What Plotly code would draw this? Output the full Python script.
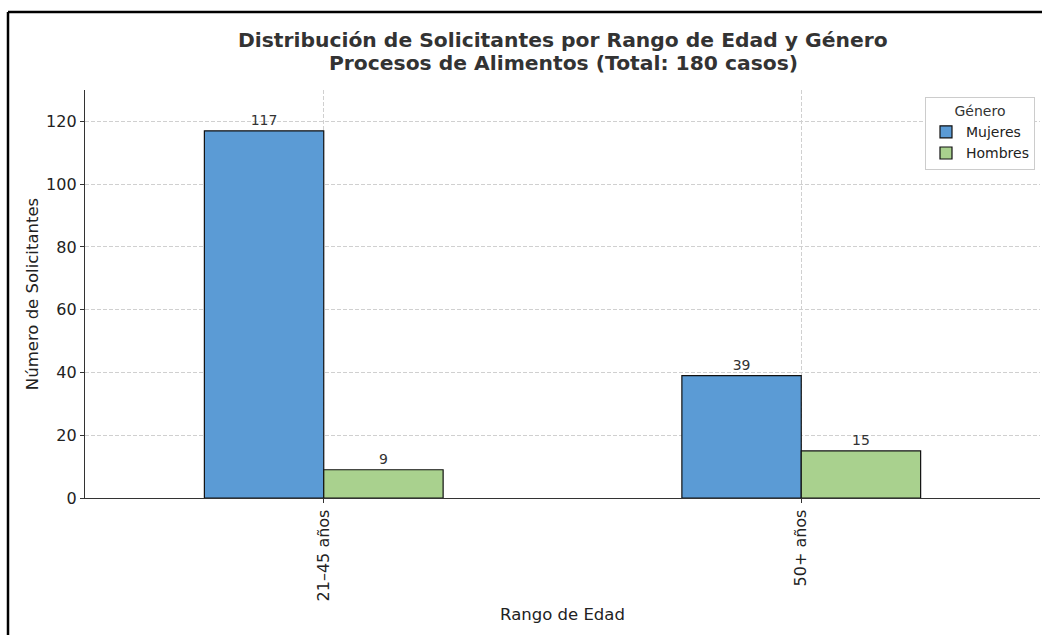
import plotly.graph_objects as go

categorias = ["21–45 años", "50+ años"]
mujeres = [117, 39]
hombres = [9, 15]
series = [("Mujeres", mujeres, "#5B9BD5"), ("Hombres", hombres, "#A9D18E")]
titulo_1 = "Distribución de Solicitantes por Rango de Edad y Género"
titulo_2 = "Procesos de Alimentos (Total: 180 casos)"

W, H = 1042, 635
L, R, T, B = 85, 2, 90, 137
pw, ph = W - L - R, H - T - B

fig = go.Figure()
for name, vals, col in series:
    fig.add_trace(go.Bar(
        x=categorias, y=vals, name=name,
        marker=dict(color=col, line=dict(color="#111111", width=1.2)),
        text=[str(v) for v in vals], textposition="outside",
        textfont=dict(size=14, color="#333333", family="DejaVu Sans"),
        cliponaxis=False,
    ))

def px_x(p):
    return (p - L) / pw

def px_y(p):
    return (H - B - p) / ph

fig.update_layout(
    width=W, height=H,
    margin=dict(l=L, r=R, t=T, b=B),
    plot_bgcolor="white", paper_bgcolor="white",
    font=dict(family="DejaVu Sans", color="#222222", size=16),
    barmode="group", bargap=0.5, bargroupgap=0,
    legend=dict(
        title=dict(text="Género", side="top center", font=dict(size=14, color="#333333")),
        x=px_x(1035), xanchor="right", y=px_y(97), yanchor="top",
        bordercolor="#cccccc", borderwidth=1, bgcolor="white",
        font=dict(size=14, color="#222222"),
        tracegroupgap=0, itemwidth=30,
    ),
    xaxis=dict(
        range=[-0.5, 1.5], tickangle=-90, ticks="outside", ticklen=4,
        tickcolor="#333333", showline=True, linecolor="#333333", linewidth=1.3,
        showgrid=True, gridcolor="#d0d0d0", griddash="4px,2px", gridwidth=0.8,
        title=dict(text="Rango de Edad", font=dict(size=16.5), standoff=8),
        tickfont=dict(size=16),
    ),
    yaxis=dict(
        range=[0, 130], dtick=20, ticks="outside", ticklen=4, tickcolor="#333333",
        showline=True, linecolor="#333333", linewidth=1.3,
        showgrid=True, gridcolor="#d0d0d0", griddash="4px,2px", gridwidth=0.8,
        zeroline=False,
        title=dict(text="Número de Solicitantes", font=dict(size=16.5), standoff=3),
        tickfont=dict(size=16),
    ),
    annotations=[
        dict(text="<b>" + titulo_1 + "</b>", xref="paper", yref="paper",
             x=px_x(563), y=px_y(40), xanchor="center", yanchor="middle",
             showarrow=False, font=dict(size=20.3, color="#333333")),
        dict(text="<b>" + titulo_2 + "</b>", xref="paper", yref="paper",
             x=px_x(563), y=px_y(63), xanchor="center", yanchor="middle",
             showarrow=False, font=dict(size=20.3, color="#333333")),
    ],
    shapes=[
        dict(type="line", xref="paper", yref="paper", x0=px_x(8), x1=px_x(8),
             y0=px_y(12), y1=px_y(H + 5), line=dict(color="black", width=2.5)),
        dict(type="line", xref="paper", yref="paper", x0=px_x(8), x1=px_x(W + 5),
             y0=px_y(12), y1=px_y(12), line=dict(color="black", width=2.5)),
    ],
)

fig.write_html("out.html", config={"displayModeBar": False},
               post_script="document.body.style.margin='0';document.body.style.overflow='hidden';")
